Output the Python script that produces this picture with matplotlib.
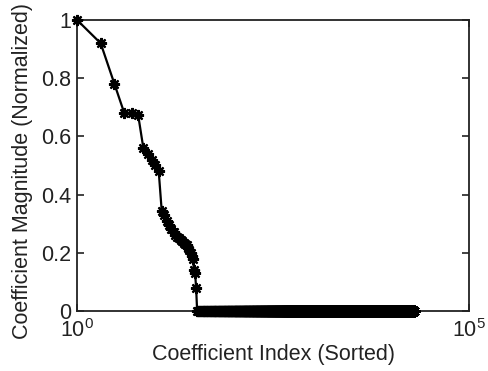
import numpy as np
import matplotlib
matplotlib.use("Agg")
import matplotlib.pyplot as plt

plt.rcParams['font.family'] = ['Liberation Sans', 'DejaVu Sans']
plt.rcParams['mathtext.fontset'] = 'custom'
plt.rcParams['mathtext.rm'] = 'Liberation Sans'
plt.rcParams['mathtext.it'] = 'Liberation Sans'

# Sorted, normalized coefficient magnitudes (nonzero head)
head_values = [1.0, 0.92, 0.78, 0.68, 0.68, 0.675, 0.56, 0.54, 0.52, 0.50, 0.48,
               0.345, 0.33, 0.31, 0.295, 0.28, 0.27, 0.26, 0.255, 0.25, 0.245,
               0.24, 0.235, 0.23, 0.225, 0.215, 0.21, 0.20, 0.19, 0.18, 0.14,
               0.13, 0.08]
n_total = 20000  # total number of coefficients; the rest are zero
y_ticks = [0, 0.2, 0.4, 0.6, 0.8, 1]
y_tick_labels = ['0', '0.2', '0.4', '0.6', '0.8', '1']
x_ticks = [1, 1e5]
x_tick_labels = [r'$10^{0}$', r'$10^{5}$']

values = np.zeros(n_total)
values[:len(head_values)] = head_values
idx = np.arange(1, n_total + 1)

fig = plt.figure(figsize=(4.88, 3.71), dpi=100)
ax = fig.add_axes([0.158, 0.162, 0.803, 0.784])
ax.plot(idx, values, color='black', linewidth=1.6, marker=(8, 2, 0),
        markersize=8, markeredgewidth=1.6, clip_on=False, zorder=3)
ax.set_xscale('log')
ax.set_xlim(1, 1e5)
ax.set_ylim(0, 1)
ax.set_xticks(x_ticks)
ax.set_xticklabels(x_tick_labels)
ax.xaxis.set_minor_locator(matplotlib.ticker.NullLocator())
ax.set_yticks(y_ticks)
ax.set_yticklabels(y_tick_labels)
ax.tick_params(direction='in', length=5, width=1.2, labelsize=15.5, top=True, right=True,
               color='#222222', labelcolor='#222222')
ax.tick_params(axis='y', pad=4)
ax.tick_params(axis='x', pad=6)
for s in ax.spines.values():
    s.set_color('#222222')
    s.set_linewidth(1.3)
ax.set_xlabel('Coefficient Index (Sorted)', fontsize=15.5, color='#222222', labelpad=1)
ax.set_ylabel('Coefficient Magnitude (Normalized)', fontsize=15.5, color='#222222')
ax.yaxis.set_label_coords(-0.112, 0.48)
fig.savefig('out.png', dpi=100)
